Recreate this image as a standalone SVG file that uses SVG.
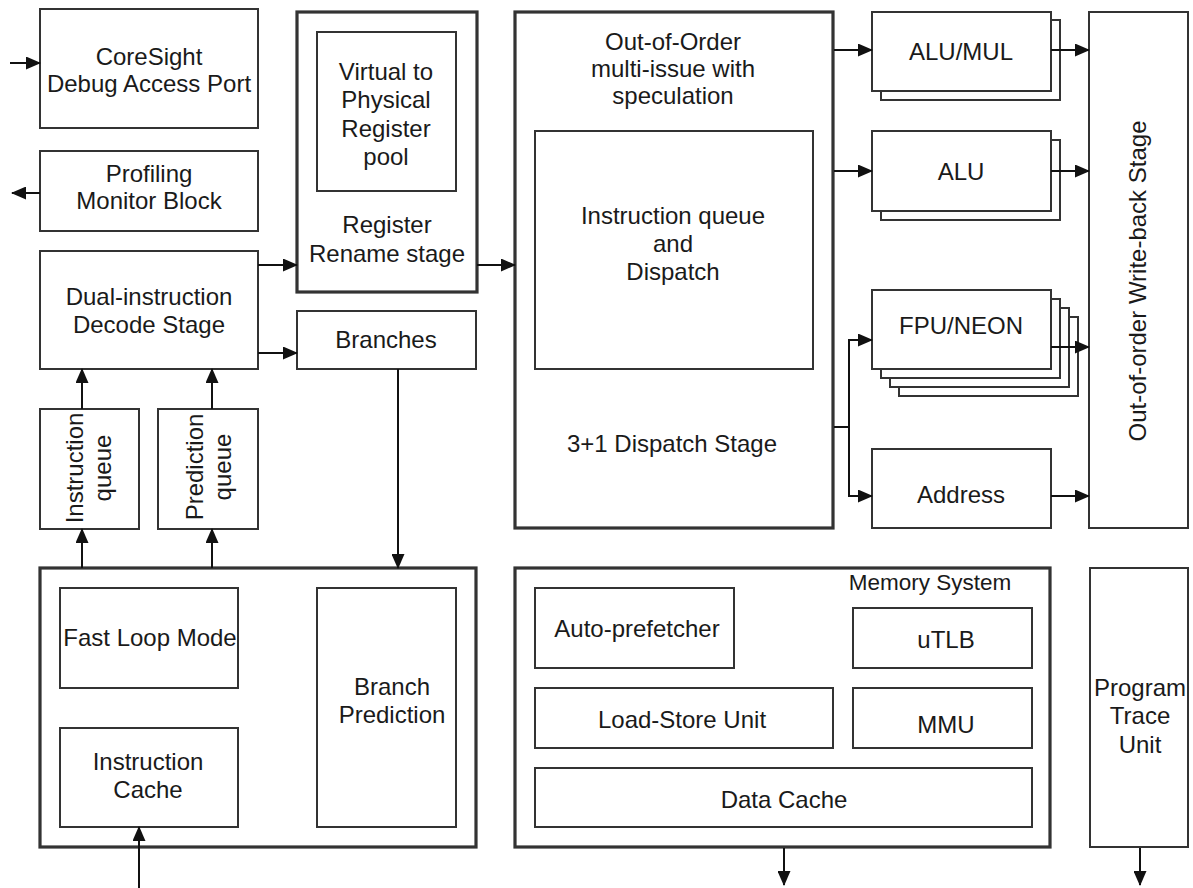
<svg xmlns="http://www.w3.org/2000/svg" width="1193" height="888" viewBox="0 0 1193 888">
<defs>
<marker id="ah" markerUnits="userSpaceOnUse" markerWidth="15" markerHeight="13" refX="14" refY="6.5" orient="auto">
<path d="M0,0 L15,6.5 L0,13 z" fill="#111"/>
</marker>
<style>
.b{fill:#fff;stroke:#333;stroke-width:2}
.t{fill:#fff;stroke:#333;stroke-width:3.2}
text{font-family:"Liberation Sans",Arial,sans-serif;font-size:24px;fill:#1a1a1a;text-anchor:middle}
.m{font-size:22.5px}
.c{fill:none;stroke:#111;stroke-width:2}
.a{fill:none;stroke:#111;stroke-width:2;marker-end:url(#ah)}
</style>
</defs>
<rect width="1193" height="888" fill="#fff"/>

<g id="coresight"><rect class="b" x="40" y="9" width="218" height="119"/><text x="149" y="65">CoreSight</text><text x="149" y="92">Debug Access Port</text></g>
<g id="profiling"><rect class="b" x="40" y="151" width="218" height="80"/><text x="149" y="182">Profiling</text><text x="149" y="209">Monitor Block</text></g>
<g id="decode"><rect class="b" x="40" y="251" width="218" height="118"/><text x="149" y="305">Dual-instruction</text><text x="149" y="333">Decode Stage</text></g>
<g id="rename"><rect class="t" x="297" y="12" width="180" height="280"/><rect class="b" x="317" y="32" width="139" height="159"/>
<text x="386" y="80">Virtual to</text><text x="386" y="108">Physical</text><text x="386" y="137">Register</text><text x="386" y="165">pool</text>
<text x="387" y="233">Register</text><text x="387" y="262">Rename stage</text></g>
<g id="branches"><rect class="b" x="297" y="311" width="179" height="58"/><text x="386" y="348">Branches</text></g>
<g id="iqueue"><rect class="b" x="40" y="409" width="99" height="120"/><text transform="translate(83,468) rotate(-90)">Instruction</text><text transform="translate(111,468) rotate(-90)">queue</text></g>
<g id="pqueue"><rect class="b" x="158" y="409" width="100" height="120"/><text transform="translate(203,467) rotate(-90)">Prediction</text><text transform="translate(231,467) rotate(-90)">queue</text></g>
<g id="ooo"><rect class="t" x="515" y="12" width="318" height="516"/>
<text x="673" y="50">Out-of-Order</text><text x="673" y="77">multi-issue with</text><text x="673" y="104">speculation</text>
<rect class="b" x="535" y="131" width="278" height="238"/>
<text x="673" y="224">Instruction queue</text><text x="673" y="252">and</text><text x="673" y="280">Dispatch</text>
<text x="672" y="452">3+1 Dispatch Stage</text></g>
<g id="alumul"><rect class="b" x="881" y="20" width="179" height="80"/><rect class="b" x="872" y="12" width="179" height="79"/><text x="961" y="60">ALU/MUL</text></g>
<g id="alu"><rect class="b" x="881" y="140" width="179" height="80"/><rect class="b" x="872" y="131" width="179" height="80"/><text x="961" y="180">ALU</text></g>
<g id="fpu"><rect class="b" x="899" y="317" width="179" height="79"/><rect class="b" x="890" y="308" width="179" height="79"/><rect class="b" x="881" y="299" width="179" height="79"/><rect class="b" x="872" y="290" width="179" height="79"/><text x="961" y="334">FPU/NEON</text></g>
<g id="address"><rect class="b" x="872" y="449" width="179" height="79"/><text x="961" y="503">Address</text></g>
<g id="writeback"><rect class="b" x="1089" y="12" width="99" height="516"/><text transform="translate(1146,281) rotate(-90)">Out-of-order Write-back Stage</text></g>
<g id="fetch"><rect class="t" x="40" y="568" width="436" height="279"/>
<rect class="b" x="60" y="588" width="178" height="100"/><text x="150" y="646">Fast Loop Mode</text>
<rect class="b" x="60" y="728" width="178" height="99"/><text x="148" y="770">Instruction</text><text x="148" y="798">Cache</text>
<rect class="b" x="317" y="588" width="139" height="239"/><text x="392" y="695">Branch</text><text x="392" y="723">Prediction</text></g>
<g id="memory"><rect class="t" x="515" y="568" width="535" height="279"/>
<text class="m" x="930" y="590">Memory System</text>
<rect class="b" x="535" y="588" width="199" height="80"/><text x="637" y="637">Auto-prefetcher</text>
<rect class="b" x="853" y="608" width="179" height="60"/><text x="946" y="648">uTLB</text>
<rect class="b" x="535" y="688" width="298" height="60"/><text x="682" y="728">Load-Store Unit</text>
<rect class="b" x="853" y="688" width="179" height="60"/><text x="946" y="733">MMU</text>
<rect class="b" x="535" y="768" width="497" height="59"/><text x="784" y="808">Data Cache</text></g>
<g id="ptu"><rect class="b" x="1090" y="568" width="98" height="279"/><text x="1140" y="696">Program</text><text x="1140" y="724">Trace</text><text x="1140" y="753">Unit</text></g>

<g id="connectors">
<line class="a" x1="10" y1="63" x2="40" y2="63"/>
<line class="a" x1="40" y1="193" x2="12" y2="193"/>
<line class="a" x1="258" y1="265" x2="297" y2="265"/>
<line class="a" x1="477" y1="265" x2="515" y2="265"/>
<line class="a" x1="258" y1="353" x2="297" y2="353"/>
<line class="a" x1="398" y1="369" x2="398" y2="568"/>
<line class="a" x1="82" y1="409" x2="82" y2="369"/>
<line class="a" x1="212" y1="409" x2="212" y2="369"/>
<line class="a" x1="82" y1="568" x2="82" y2="529"/>
<line class="a" x1="212" y1="568" x2="212" y2="529"/>
<line class="a" x1="139" y1="888" x2="139" y2="827"/>
<line class="a" x1="834" y1="50" x2="872" y2="50"/>
<line class="a" x1="834" y1="171" x2="872" y2="171"/>
<line class="a" x1="1051" y1="50" x2="1089" y2="50"/>
<line class="a" x1="1051" y1="171" x2="1089" y2="171"/>
<line class="a" x1="1051" y1="347" x2="1089" y2="347"/>
<line class="a" x1="1051" y1="496" x2="1089" y2="496"/>
<polyline class="c" points="834,427 849,427"/>
<line class="c" x1="849" y1="340" x2="849" y2="496"/>
<line class="a" x1="848" y1="340" x2="872" y2="340"/>
<line class="a" x1="848" y1="496" x2="872" y2="496"/>
<line class="a" x1="784" y1="848" x2="784" y2="885"/>
<line class="a" x1="1140" y1="848" x2="1140" y2="885"/>
</g>
</svg>
